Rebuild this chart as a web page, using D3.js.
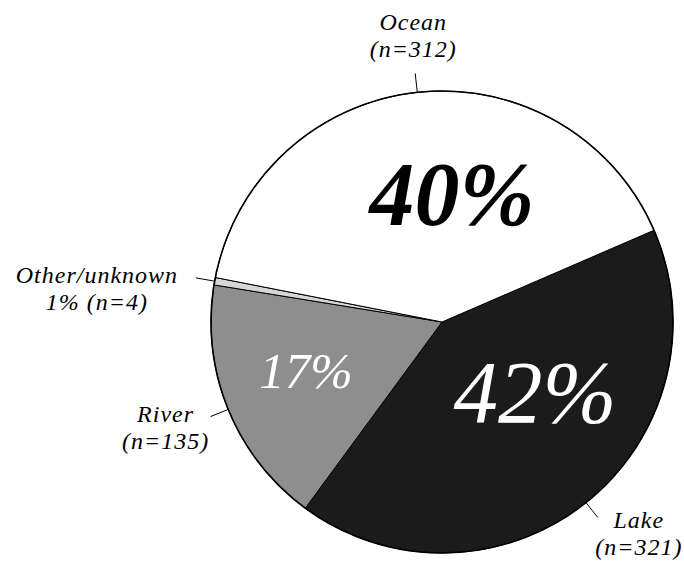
<!DOCTYPE html>
<html>
<head>
<meta charset="utf-8">
<script src="https://cdn.jsdelivr.net/npm/d3@7"></script>
<style>
  html, body { margin: 0; padding: 0; background: #fff; }
  svg { display: block; }
  text { font-family: "Liberation Serif", "DejaVu Serif", serif; font-style: italic; }
</style>
</head>
<body>
<svg id="chart" width="684" height="563"></svg>
<script>
// slices in drawing order, clockwise from the Ocean/Lake boundary
const categories = ["Lake", "River", "Other/unknown", "Ocean"];
const counts = [321, 135, 4, 312];
const pctLabels = ["42%", "17%", "1%", "40%"];
const fills = ["#1b1b1b", "#8e8e8e", "#d6d6d6", "#ffffff"];

const svg = d3.select("#chart");
const cx = 442, cy = 322, radius = 231;
const startDeg = 66.6;

const g = svg.append("g").attr("transform", `translate(${cx},${cy})`);

const pie = d3.pie()
  .value(d => d.n)
  .sort(null)
  .startAngle(startDeg * Math.PI / 180)
  .endAngle((startDeg + 360) * Math.PI / 180);

const rows = categories.map((c, i) => ({ cat: c, n: counts[i], pct: pctLabels[i], fill: fills[i] }));
const arcs = pie(rows);

const arc = d3.arc().innerRadius(0).outerRadius(radius);

g.selectAll("path.slice")
  .data(arcs)
  .enter()
  .append("path")
  .attr("class", "slice")
  .attr("d", arc)
  .attr("fill", d => d.data.fill)
  .attr("stroke", "#000")
  .attr("stroke-width", 1)
  .attr("stroke-linejoin", "round");

g.append("circle")
  .attr("r", radius)
  .attr("fill", "none")
  .attr("stroke", "#000")
  .attr("stroke-width", 1.6);

// leader lines
const lineIn = d3.arc().innerRadius(radius).outerRadius(radius);
const lineOut = d3.arc().innerRadius(radius + 19).outerRadius(radius + 19);
g.selectAll("line.leader")
  .data(arcs)
  .enter()
  .append("line")
  .attr("class", "leader")
  .attr("x1", d => lineIn.centroid(d)[0])
  .attr("y1", d => lineIn.centroid(d)[1])
  .attr("x2", d => lineOut.centroid(d)[0])
  .attr("y2", d => lineOut.centroid(d)[1])
  .attr("stroke", "#000")
  .attr("stroke-width", 1);

// outer category labels (offset from the leader end)
const outerLabel = {
  "Lake":          { dx: 41,  dy: 10,  lines: ["Lake", "(n=321)"] },
  "River":         { dx: -45, dy: 5,   lines: ["River", "(n=135)"] },
  "Other/unknown": { dx: -99, dy: 5,   lines: ["Other/unknown", "1% (n=4)"] },
  "Ocean":         { dx: -2,  dy: -43, lines: ["Ocean", "(n=312)"] }
};

arcs.forEach(d => {
  const [x, y] = lineOut.centroid(d);
  const o = outerLabel[d.data.cat];
  const t = g.append("text")
    .attr("text-anchor", "middle")
    .attr("font-size", 24)
    .attr("letter-spacing", 1)
    .attr("fill", "#000");
  o.lines.forEach((s, k) => {
    t.append("tspan")
      .attr("x", x + o.dx)
      .attr("y", y + o.dy + k * 27)
      .text(s);
  });
});

// big percentage labels inside the slices
const inner = {
  "Ocean": { r: 128,   a: 4.5,   size: 90, weight: "bold",   color: "#000" },
  "Lake":  { r: 116.5, a: 127,   size: 89, weight: "normal", color: "#fff" },
  "River": { r: 144.6, a: 250.2, size: 51, weight: "normal", color: "#fff" }
};

arcs.filter(d => inner[d.data.cat]).forEach(d => {
  const p = inner[d.data.cat];
  const a = p.a * Math.PI / 180;
  g.append("text")
    .attr("x", p.r * Math.sin(a))
    .attr("y", -p.r * Math.cos(a))
    .attr("text-anchor", "middle")
    .attr("dominant-baseline", "central")
    .attr("font-size", p.size)
    .attr("font-weight", p.weight)
    .attr("fill", p.color)
    .text(d.data.pct);
});
</script>
</body>
</html>
